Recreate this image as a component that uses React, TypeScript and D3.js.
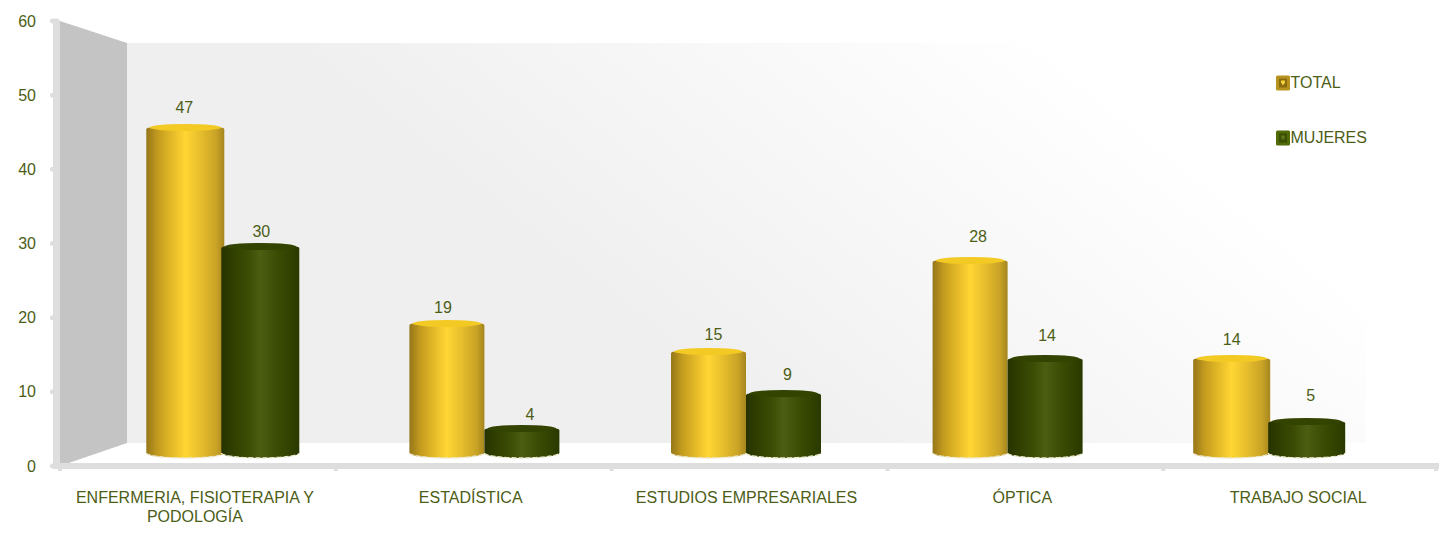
import * as d3 from "d3";

const categories = [
  "ENFERMERIA, FISIOTERAPIA Y|PODOLOGÍA",
  "ESTADÍSTICA",
  "ESTUDIOS EMPRESARIALES",
  "ÓPTICA",
  "TRABAJO SOCIAL",
];
const total = [47, 19, 15, 28, 14];
const mujeres = [30, 4, 9, 14, 5];
const seriesNames = ["TOTAL", "MUJERES"];
const yTicks = [0, 10, 20, 30, 40, 50, 60];

const width = 1439;
const height = 533;
const textColor = "#4c5d16";
const axisColor = "#dedede";
const font = "'Liberation Sans', Arial, sans-serif";
const fontSize = 16;

// front edge of the box, mid depth (where the cylinders stand) and back wall
const yFront = d3.scaleLinear().domain([0, 60]).range([466, 21]);
const yMid = d3.scaleLinear().domain([0, 60]).range([453, 33]);
const yBack = d3.scaleLinear().domain([0, 60]).range([443, 43]);

const xFront = d3.scaleBand<number>().domain(d3.range(5)).range([57, 1436]);
const xMid = d3.scaleBand<number>().domain(d3.range(5)).range([92, 1400]);
const xSeries = d3.scaleBand<number>().domain([0, 1]).range([0, 150]);

const backLeft = 127;
const backRight = 1366;
const baseY = 453;
const ry = 5;
const capRy = 3.5;

// the original chart widens the outer cylinders a little
const barWidths = [78, 75, 75, 75, 77];
// hand nudges for the value labels, the original places them unevenly
const labelNudge = [
  { dx: [-1, 1], dy: [-11, -6] },
  { dx: [-4, 8], dy: [-7, -5] },
  { dx: [5, 4], dy: [-8.5, -10.5] },
  { dx: [8, 2], dy: [-15.5, -14.5] },
  { dx: [0, 4], dy: [-10.5, -17.5] },
];

const colors = [
  {
    id: "gold",
    top: "#f3ca24",
    stops: ["#96761a", "#c49c1e", "#e8bd2a", "#ffd633", "#e6bd2c", "#c8a226", "#a5861e"],
    swatch: "#b8941e",
    inner: "#8a6c10",
    mark: "#f5d33a",
  },
  {
    id: "green",
    top: "#334300",
    stops: ["#263300", "#303f00", "#3c4d05", "#4c5e12", "#3c4d05", "#304000", "#2a3900"],
    swatch: "#506a08",
    inner: "#3c4d04",
    mark: "#5f7418",
  },
];
const offsets = [0, 0.15, 0.35, 0.5, 0.7, 0.9, 1];

function Cylinder({ cat, s, value }: { cat: number; s: number; value: number }) {
  const center = xMid(cat)! + xMid.bandwidth() / 2 - 75;
  const cx = center + xSeries(s)! + xSeries.bandwidth() / 2;
  const rx = barWidths[cat] / 2;
  const top = yMid(value);
  const shoulder = top + capRy;
  const c = colors[s];
  const body = `M${cx - rx},${shoulder + 2} Q${cx - rx},${shoulder} ${cx - rx + 4},${shoulder} L${cx + rx - 4},${shoulder} Q${cx + rx},${shoulder} ${cx + rx},${shoulder + 2} L${cx + rx},${baseY} A${rx},${ry} 0 0 1 ${cx - rx},${baseY} Z`;
  return (
    <g>
      <path d={body} fill={`url(#${c.id})`} />
      <path
        d={`M${cx - rx},${baseY} A${rx},${ry} 0 0 0 ${cx + rx},${baseY}`}
        fill="none"
        stroke="#ece9cf"
        strokeWidth={1.4}
        strokeDasharray="5 2"
      />
      <ellipse cx={cx} cy={shoulder} rx={rx - 3} ry={capRy} fill={c.top} />
      <text
        x={cx + labelNudge[cat].dx[s]}
        y={top + labelNudge[cat].dy[s]}
        textAnchor="middle"
        fontSize={fontSize}
        fill={textColor}
      >
        {value}
      </text>
    </g>
  );
}

export default function App() {
  const series = [total, mujeres];
  return (
    <svg
      width={width}
      height={height}
      fontFamily={font}
      style={{ position: "absolute", left: 0, top: 0, background: "#fff" }}
    >
      <defs>
        <linearGradient id="wall" gradientUnits="userSpaceOnUse" x1={600} y1={300} x2={900} y2={-75}>
          <stop offset="0" stopColor="#efefef" />
          <stop offset="1" stopColor="#ffffff" />
        </linearGradient>
        {colors.map((c) => (
          <linearGradient key={c.id} id={c.id} x1="0" y1="0" x2="1" y2="0">
            {c.stops.map((col, i) => (
              <stop key={i} offset={offsets[i]} stopColor={col} />
            ))}
          </linearGradient>
        ))}
      </defs>

      {/* back wall */}
      <rect
        x={backLeft}
        y={yBack(60)}
        width={backRight - backLeft}
        height={yBack(0) - yBack(60)}
        fill="url(#wall)"
      />
      {/* side wall */}
      <path
        d={`M60,${yFront(60)} L${backLeft},${yBack(60)} L${backLeft},${yBack(0)} L60,${yFront(0)} Z`}
        fill="#c4c4c4"
      />

      {/* axes */}
      <line x1={56.5} x2={56.5} y1={yFront(60)} y2={yFront(0)} stroke={axisColor} strokeWidth={7} />
      <line x1={53} x2={1439} y1={yFront(0)} y2={yFront(0)} stroke={axisColor} strokeWidth={6} />
      {yTicks.map((t) => (
        <g key={t}>
          <line
            x1={52.5}
            x2={57}
            y1={yFront(t)}
            y2={yFront(t)}
            stroke={axisColor}
            strokeWidth={5}
            strokeLinecap="round"
          />
          <text x={36} y={yFront(t) + 5.5} textAnchor="end" fontSize={fontSize} fill={textColor}>
            {t}
          </text>
        </g>
      ))}
      {d3.range(6).map((i) => {
        const x = i < 5 ? xFront(i)! + 3 : 1436;
        return <line key={i} x1={x} x2={x} y1={yFront(0)} y2={yFront(0) + 5} stroke={axisColor} strokeWidth={4} />;
      })}

      {/* cylinders */}
      {categories.map((_, i) => (
        <g key={i}>
          {series.map((vals, s) => (
            <Cylinder key={s} cat={i} s={s} value={vals[i]} />
          ))}
        </g>
      ))}

      {/* category labels */}
      {categories.map((label, i) => {
        const cx = xFront(i)! + xFront.bandwidth() / 2;
        return (
          <text key={i} textAnchor="middle" fontSize={fontSize} fill={textColor}>
            {label.split("|").map((line, k) => (
              <tspan key={k} x={cx} y={502.5 + k * 19}>
                {line}
              </tspan>
            ))}
          </text>
        );
      })}

      {/* legend */}
      {seriesNames.map((name, s) => {
        const y = 83 + s * 55;
        const c = colors[s];
        return (
          <g key={name}>
            <rect x={1276} y={y - 7.5} width={14} height={15} rx={1.5} fill={c.swatch} />
            <rect x={1279} y={y - 4.5} width={8} height={9} fill={c.inner} />
            <path d={`M1281,${y - 2.5} h4 v2 l-2,3 l-2,-3 Z`} fill={c.mark} />
            <text x={1290.5} y={y + 5} fontSize={fontSize} fill={textColor}>
              {name}
            </text>
          </g>
        );
      })}
    </svg>
  );
}
